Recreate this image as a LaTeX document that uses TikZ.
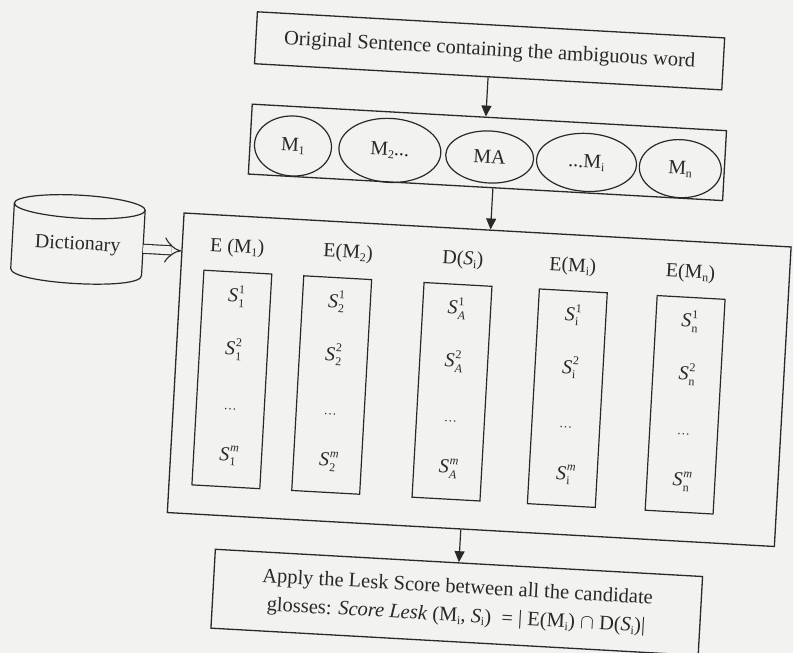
\documentclass[tikz,border=0pt]{standalone}
\usepackage{fontspec}
\setmainfont{Liberation Serif}
\usetikzlibrary{shapes.geometric,arrows.meta,calc}
\definecolor{paper}{rgb}{0.95,0.95,0.94}
\definecolor{ink}{rgb}{0.16,0.16,0.16}
\newcommand{\scr}[1]{{\fontsize{13}{13}\selectfont #1}}
\newcommand{\scx}[1]{{\fontsize{12}{12}\selectfont #1}}
\newcommand{\Sx}[2]{\textit{S}\kern0.5pt\rlap{\raisebox{9pt}{\scx{#2}}}\raisebox{-5pt}{\scx{#1}}}
\newcommand{\Mx}[1]{M\raisebox{-3pt}{\scx{#1}}}
\newcommand{\Sb}[1]{\textit{S}\raisebox{-3pt}{\scx{#1}}}
\begin{document}
\begin{tikzpicture}[x=1pt,y=-1pt,
  box/.style={draw=ink, line width=1.3pt, rectangle, inner sep=0pt, text=ink},
  lbl/.style={font=\fontsize{20}{24}\selectfont, text=ink, inner sep=1pt},
  ent/.style={font=\fontsize{20}{24}\selectfont, text=ink, inner sep=0pt},
  mell/.style={ellipse, draw=ink, line width=1.2pt, inner sep=0pt, text=ink, font=\fontsize{20}{24}\selectfont},
  colbox/.style={draw=ink, line width=1.2pt, rectangle, minimum width=68, minimum height=215, inner sep=0pt},
  arr/.style={draw=ink, line width=1.2pt, -{Triangle[length=11pt,width=10pt]}}]
\useasboundingbox (0,0) rectangle (793,653);
\fill[paper] (0,0) rectangle (793,653);
\clip (0,0) rectangle (793,653);
\begin{scope}[rotate around={-3.2:(485,330)}, transform shape]
  % top box
  \node[box, minimum width=468, minimum height=52, font=\fontsize{20.5}{24}\selectfont] (orig) at (474,51) {Original Sentence containing the ambiguous word};
  % senses box
  \node[box, minimum width=475, minimum height=70] (senses) at (477.5,152.5) {};
  \node[mell, minimum width=77, minimum height=60] (m1) at (283,157) {\Mx{1}};
  \node[mell, minimum width=102, minimum height=64] (m2) at (380,156) {\Mx{2}...};
  \node[mell, minimum width=88, minimum height=52] (ma) at (480,157) {MA};
  \node[mell, minimum width=100, minimum height=58] (mi) at (577,157) {...\Mx{i}};
  \node[mell, minimum width=82, minimum height=58] (mn) at (671,158) {\Mx{n}};
  % big box
  \node[box, minimum width=608, minimum height=300] (big) at (482,380) {};
  % dictionary cylinder
  \draw[ink, line width=1.2pt] (8,229.5) -- (8,295) .. controls (8,310.3) and (139,310.3) .. (139,295) -- (139,229.5);
  \draw[ink, line width=1.2pt] (73.5,229.5) ellipse [x radius=65.5, y radius=11.5];
  \node[lbl, minimum width=131, inner sep=0pt] (dict) at (73.5,268) {Dictionary};
  \draw[ink, line width=1.1pt, double=paper, double distance=8pt, -{Implies}] (dict.east) -- (dict.east -| big.west);
  % column labels
  \node[lbl] (l1) at (233,262) {E (\Mx{1})};
  \node[lbl] (l2) at (344,261) {E(\Mx{2})};
  \node[lbl] (l3) at (459,261) {D(\Sb{i})};
  \node[lbl] (l4) at (569,262) {E(\Mx{i})};
  \node[lbl] (l5) at (687,262) {E(\Mx{n})};
  % columns
  \foreach \n/\x/\s in {1/235/1, 2/335/2, 3/455.5/\textit{A}, 4/571/i, 5/689/n}{
    \node[colbox] (c\n) at (\x,393.5) {};
    \node[ent] (c\n a) at (\x,310) {\Sx{\s}{1}};
    \node[ent] (c\n b) at (\x,363) {\Sx{\s}{2}};
    \node[ent] (c\n c) at (\x,423) {\scr{\dots}};
    \node[ent] (c\n d) at (\x,470) {\Sx{\s}{\textit{m}}};
  }
  % score box
  \node[box, minimum width=488, minimum height=79, align=center, font=\fontsize{20.5}{28.5}\selectfont] (score) at (472,603.5)
    {Apply the Lesk Score between all the candidate\\glosses: \textit{Score Lesk} (\Mx{i}, \Sb{i})\ \ = | E(\Mx{i}) $\cap$ D(\Sb{i})|};
  % arrows
  \draw[arr] (orig.south) -- (orig.south |- senses.north);
  \draw[arr] ($(senses.south)+(7.5,0)$) -- ($(senses.south |- big.north)+(7.5,0)$);
  \draw[arr] (big.south -| score.north) -- (score.north);
\end{scope}
\end{tikzpicture}
\end{document}
